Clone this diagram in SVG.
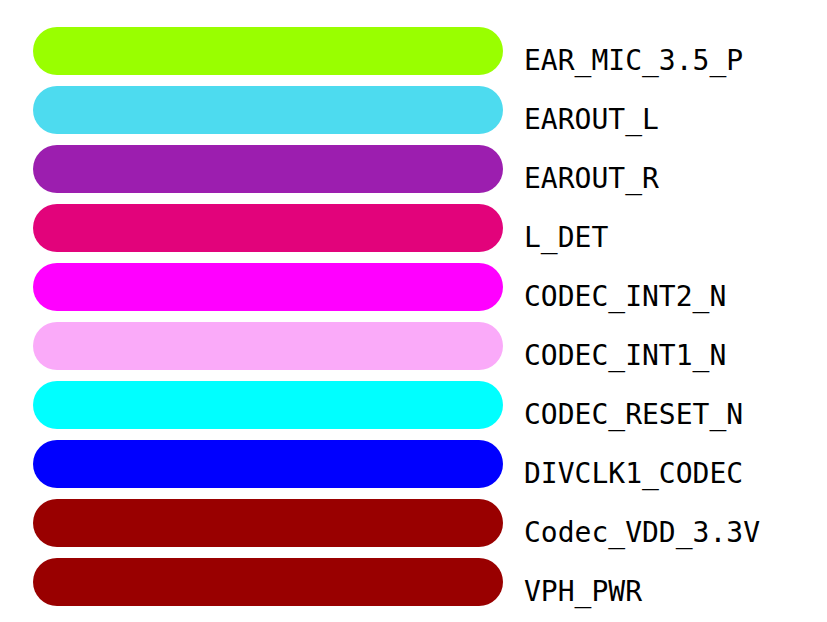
<svg xmlns="http://www.w3.org/2000/svg" width="827" height="622" viewBox="0 0 827 622">
<style>
.bar{stroke:none}
.lbl{font-family:"DejaVu Sans Mono","Liberation Mono",monospace;font-size:28px;fill:#000}
</style>
<rect width="827" height="622" fill="#fff"/>
<g id="n1"><rect class="bar" x="33" y="27" width="470" height="48" rx="24" fill="#99FF00"/><text class="lbl" x="524" y="70">EAR_MIC_3.5_P</text></g>
<g id="n2"><rect class="bar" x="33" y="86" width="470" height="48" rx="24" fill="#4DDBEF"/><text class="lbl" x="524" y="129">EAROUT_L</text></g>
<g id="n3"><rect class="bar" x="33" y="145" width="470" height="48" rx="24" fill="#9C1EAF"/><text class="lbl" x="524" y="188">EAROUT_R</text></g>
<g id="n4"><rect class="bar" x="33" y="204" width="470" height="48" rx="24" fill="#E2037B"/><text class="lbl" x="524" y="247">L_DET</text></g>
<g id="n5"><rect class="bar" x="33" y="263" width="470" height="48" rx="24" fill="#FF00FF"/><text class="lbl" x="524" y="306">CODEC_INT2_N</text></g>
<g id="n6"><rect class="bar" x="33" y="322" width="470" height="48" rx="24" fill="#FAAAF9"/><text class="lbl" x="524" y="365">CODEC_INT1_N</text></g>
<g id="n7"><rect class="bar" x="33" y="381" width="470" height="48" rx="24" fill="#00FFFF"/><text class="lbl" x="524" y="424">CODEC_RESET_N</text></g>
<g id="n8"><rect class="bar" x="33" y="440" width="470" height="48" rx="24" fill="#0000FF"/><text class="lbl" x="524" y="483">DIVCLK1_CODEC</text></g>
<g id="n9"><rect class="bar" x="33" y="499" width="470" height="48" rx="24" fill="#990000"/><text class="lbl" x="524" y="542">Codec_VDD_3.3V</text></g>
<g id="n10"><rect class="bar" x="33" y="558" width="470" height="48" rx="24" fill="#990000"/><text class="lbl" x="524" y="601">VPH_PWR</text></g>
<g id="connectors"/>
</svg>
